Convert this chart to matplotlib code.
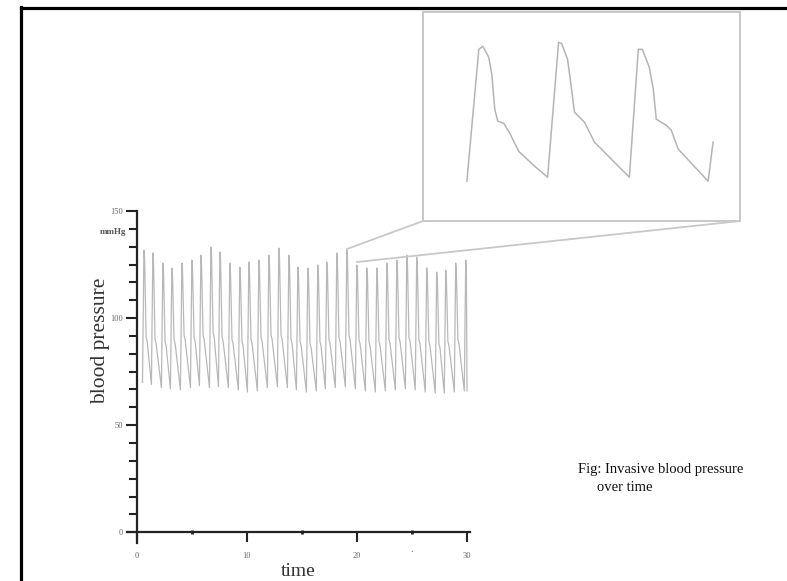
import matplotlib
matplotlib.use("Agg")
import matplotlib.pyplot as plt
from matplotlib.lines import Line2D
from matplotlib.ticker import FixedLocator

plt.rcParams['font.family'] = ['Liberation Serif', 'DejaVu Serif']

# ---- main recording: one entry per heartbeat ----
peak_t = [0.64, 1.45, 2.36, 3.18, 4.09, 5.00, 5.82, 6.73, 7.55, 8.45,
          9.36, 10.18, 11.09, 12.00, 12.91, 13.82, 14.64, 15.55, 16.45, 17.27,
          18.18, 19.09, 20.00, 20.91, 21.82, 22.73, 23.64, 24.55, 25.45, 26.36,
          27.27, 28.09, 29.00, 29.91]
peak_v = [131.8, 130.4, 125.7, 123.4, 125.7, 127.1, 129.4, 133.2, 130.8, 125.7,
          123.8, 126.2, 127.1, 129.4, 132.7, 129.4, 123.8, 123.4, 124.8, 126.2,
          130.4, 131.8, 124.8, 123.4, 123.4, 125.7, 127.1, 129.4, 128.5, 123.4,
          121.5, 122.4, 125.7, 127.1]
notch_v = [91, 90, 89, 90, 92, 91, 92, 93, 91, 90,
           89, 90, 91, 92, 92, 90, 89, 88, 89, 90,
           91, 92, 90, 89, 89, 90, 91, 91, 90, 89,
           88, 89, 90, 90]
trough_v = [70.0, 69.0, 67.5, 67.0, 66.5, 67.5, 68.5, 67.5, 68.0, 67.5,
            66.5, 65.5, 66.0, 67.5, 68.0, 67.5, 66.5, 65.5, 66.0, 67.0,
            67.5, 68.0, 67.0, 66.0, 65.5, 66.0, 66.5, 67.0, 66.5, 65.5,
            65.0, 65.0, 65.5, 66.0]
end_v = 66.0

# ---- magnified segment (three beats) ----
inset_t = [0.43, 0.55, 0.59, 0.65, 0.68, 0.71, 0.74, 0.80, 0.86, 0.95, 1.11, 1.24,
           1.35, 1.38, 1.44, 1.48, 1.51, 1.56, 1.61, 1.71, 1.91, 2.06,
           2.15, 2.19, 2.26, 2.30, 2.33, 2.43, 2.48, 2.55, 2.71, 2.85, 2.90]
inset_v = [70.0, 123.0, 124.2, 119.8, 113.0, 98.9, 94.1, 93.3, 89.3, 82.0, 76.0, 71.6,
           125.8, 125.4, 119.0, 107.0, 97.7, 95.7, 93.7, 85.7, 77.6, 71.6,
           123.0, 123.0, 115.8, 107.0, 94.9, 92.5, 90.5, 82.9, 76.0, 70.0, 85.7]

y_major = [0, 50, 100, 150]
y_labels = ["0", "50", "100", "150"]
x_major = [0, 10, 20, 30]
x_labels = ["0", "10", "20", "30"]
x_minor = [5, 15, 25]

W, H = 787, 581
fig = plt.figure(figsize=(W / 100, H / 100), dpi=100)


def fx(px):
    return px / W


def fy(py):
    return 1 - py / H


# page frame (top and left rules)
fig.add_artist(Line2D([fx(20.5), fx(787)], [fy(8.3), fy(8.3)], color='black', lw=2.3))
fig.add_artist(Line2D([fx(20.5), fx(20.5)], [fy(7), fy(581)], color='black', lw=2.3))

# ---- main axes ----
x0, x1 = -0.9, 30.3
y0, y1 = -5, 150
ax_l, ax_r = 127, 470
ax_t, ax_b = 211, 543
ax = fig.add_axes([fx(ax_l), fy(ax_b), (ax_r - ax_l) / W, (ax_b - ax_t) / H])
ax.set_xlim(x0, x1)
ax.set_ylim(y0, y1)

# build the trace from the per-beat key values
trace_t, trace_v = [], []
for i, tp in enumerate(peak_t):
    trace_t += [tp - 0.13, tp, tp + 0.06, tp + 0.20, tp + 0.30]
    trace_v += [trough_v[i], peak_v[i], peak_v[i] - 4, notch_v[i], notch_v[i] - 2]
trace_t[-2:] = [peak_t[-1] + 0.12]
trace_v[-2:] = [end_v]
ax.plot(trace_t, trace_v, color='#b8b8b8', lw=0.9, solid_joinstyle='round')

for side in ('top', 'right'):
    ax.spines[side].set_visible(False)
ax.spines['left'].set_position(('data', 0))
ax.spines['bottom'].set_position(('data', 0))
for side in ('left', 'bottom'):
    ax.spines[side].set_linewidth(1.6)
    ax.spines[side].set_color('#222222')

ax.yaxis.set_major_locator(FixedLocator(y_major))
ax.yaxis.set_minor_locator(FixedLocator([k * 50 / 6 for k in range(18) if k % 6]))
ax.set_yticklabels(y_labels)
ax.xaxis.set_major_locator(FixedLocator(x_major))
ax.xaxis.set_minor_locator(FixedLocator(x_minor))
ax.set_xticklabels(x_labels)

ax.tick_params(axis='y', which='major', direction='out', length=8, width=1.5,
               colors='#222222', labelsize=6, labelcolor='#666666', pad=2)
ax.tick_params(axis='y', which='minor', direction='out', length=6, width=1.5,
               colors='#222222')
ax.tick_params(axis='x', which='major', direction='out', length=7, width=1.5,
               colors='#222222', labelsize=6, labelcolor='#666666', pad=7)
ax.tick_params(axis='x', which='minor', direction='inout', length=3, width=2,
               colors='#222222')
ax.text(25, -6, ".", ha='center', va='top', fontsize=7, color='#666666')
ax.text(-1.0, 140, "mmHg", ha='right', va='center', fontsize=6.5, color='#555555',
        fontweight='bold')

ax.set_xlabel("time", fontsize=14, color='#333333', labelpad=2)
ax.patch.set_alpha(0)
fig.text(fx(101), fy(341), "blood pressure", rotation=90, fontsize=15.5,
         color='#333333', ha='center', va='center')

# ---- magnified view ----
ins_l, ins_r, ins_t, ins_b = 423, 740, 12, 221
ins = fig.add_axes([fx(ins_l), fy(ins_b), (ins_r - ins_l) / W, (ins_b - ins_t) / H])
ins.plot(inset_t, inset_v, color='#b4b4b4', lw=1.1)
ins.set_xlim(-0.01, 3.17)
ins.set_ylim(54, 138)
ins.set_xticks([])
ins.set_yticks([])
for s in ins.spines.values():
    s.set_color('#c8c8c8')
    s.set_linewidth(1.4)

# connector lines from the magnified view to the trace
fig.add_artist(Line2D([fx(423), fx(347)], [fy(221), fy(249)], color='#c8c8c8', lw=1.3))
fig.add_artist(Line2D([fx(740), fx(357)], [fy(221), fy(262)], color='#c8c8c8', lw=1.3))

fig.text(fx(578), fy(473), "Fig: Invasive blood pressure", fontsize=10.5,
         color='#111111', va='baseline')
fig.text(fx(597), fy(491), "over time", fontsize=10.5, color='#111111', va='baseline')

fig.savefig("out.png", dpi=100)
